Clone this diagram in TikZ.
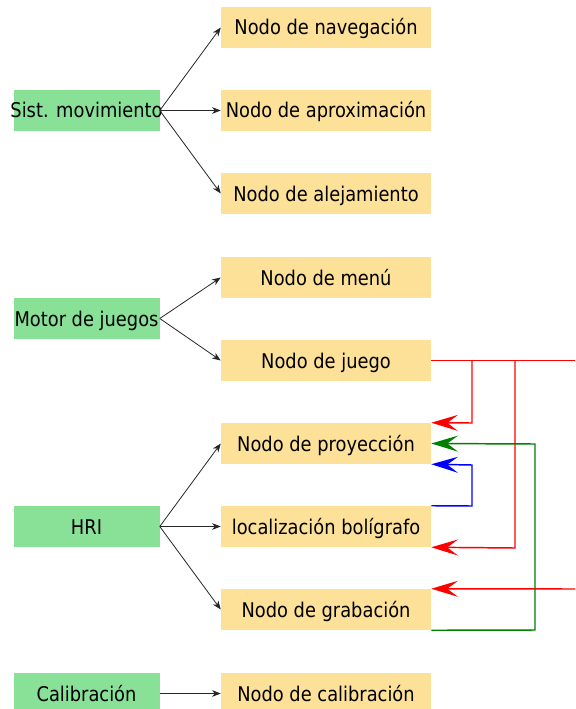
\documentclass[tikz,border=0pt]{standalone}
\usepackage{fontspec}
\setmainfont[FakeStretch=0.88]{DejaVu Sans}
\usetikzlibrary{arrows.meta}
\definecolor{boxgreen}{RGB}{137,225,152}
\definecolor{boxyellow}{RGB}{253,225,152}
\definecolor{lgreen}{RGB}{0,128,0}
\begin{document}
\begin{tikzpicture}[x=0.75pt,y=-0.75pt,
  every node/.style={font=\fontsize{15.2}{18}\selectfont, inner sep=0pt, text height=11.25pt, text depth=0pt},
  srcbox/.style={rectangle, fill=boxgreen, minimum width=109.5pt, minimum height=30.75pt},
  dstbox/.style={rectangle, fill=boxyellow, minimum width=157.5pt, minimum height=30.75pt},
  link/.style={draw=black!85, line width=0.6pt, -{Stealth[length=6.5pt,width=5pt,inset=2pt]}},
  cross/.style={line width=1.1pt, -{Stealth[length=20pt,width=12pt,inset=8pt]}}]
\useasboundingbox (0,0) rectangle (575,709);
% source boxes
\node[srcbox] (mov) at (86.5,110.5) {\makebox[0pt]{Sist. movimiento}};
\node[srcbox] (mot) at (86.5,318.5) {Motor de juegos};
\node[srcbox] (hri) at (86.5,526.5) {HRI};
\node[srcbox] (cal) at (86.5,693.5) {Calibración};
% target boxes
\node[dstbox] (nav) at (326,27.5) {Nodo de navegación};
\node[dstbox] (apr) at (326,110.5) {Nodo de aproximación};
\node[dstbox] (ale) at (326,193.5) {Nodo de alejamiento};
\node[dstbox] (men) at (326,277.5) {Nodo de menú};
\node[dstbox] (jue) at (326,360.5) {Nodo de juego};
\node[dstbox] (pro) at (326,443.5) {Nodo de proyección};
\node[dstbox] (loc) at (326,526.5) {localización bolígrafo};
\node[dstbox] (gra) at (326,609.5) {Nodo de grabación};
\node[dstbox] (nca) at (326,693.5) {Nodo de calibración};
% black arrows
\draw[link] (mov.east) -- (nav.west);
\draw[link] (mov.east) -- (apr.west);
\draw[link] (mov.east) -- (ale.west);
\draw[link] (mot.east) -- (men.west);
\draw[link] (mot.east) -- (jue.west);
\draw[link] (hri.east) -- (pro.west);
\draw[link] (hri.east) -- (loc.west);
\draw[link] (hri.east) -- (gra.west);
\draw[link] (cal.east) -- (nca.west);
% coloured connectors
\coordinate (r1) at (575,360.5);
\coordinate (r2) at (575,589);
\draw[red, line width=1.1pt] (jue.east) -- (r1);
\draw[red, cross] (jue.east -| 472,0) -- (472,423) -- (pro.north east);
\draw[red, cross] (jue.east -| 515,0) -- (515,548) -- (loc.south east);
\draw[red, cross] (r2) -- (gra.north east);
\draw[lgreen, cross] (gra.south east) -- (535,630) -- (535,444) -- (pro.east);
\draw[blue, cross] (loc.north east) -- (472,506) -- (472,465) -- (pro.south east);
\end{tikzpicture}
\end{document}
